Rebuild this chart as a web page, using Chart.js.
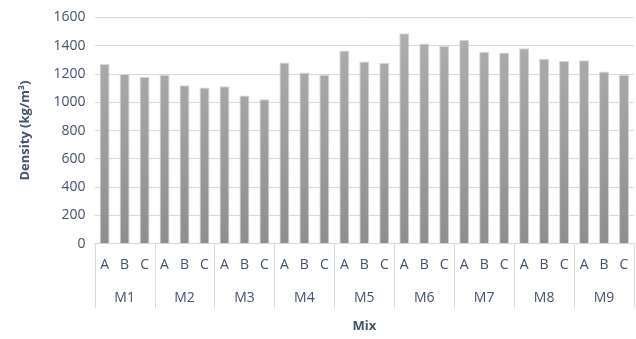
<!DOCTYPE html>
<html>
<head>
<meta charset="utf-8">
<script src="https://cdn.jsdelivr.net/npm/chart.js@4/dist/chart.umd.min.js"></script>
<style>
  html, body { margin: 0; padding: 0; background: #fff; }
  #wrap { width: 636px; height: 339px; }
</style>
</head>
<body>
<div id="wrap"><canvas id="c" width="636" height="339"></canvas></div>
<script>
// Mixes and their specimens
const mixes = ['M1', 'M2', 'M3', 'M4', 'M5', 'M6', 'M7', 'M8', 'M9'];
const specimens = ['A', 'B', 'C'];

// Density per mix, specimens A, B, C (kg/m³)
const m1 = [1270, 1200, 1180];
const m2 = [1195, 1120, 1105];
const m3 = [1113, 1048, 1022];
const m4 = [1281, 1211, 1195];
const m5 = [1366, 1288, 1277];
const m6 = [1488, 1415, 1399];
const m7 = [1441, 1357, 1352];
const m8 = [1382, 1307, 1291];
const m9 = [1298, 1217, 1195];

const yTicks = [0, 200, 400, 600, 800, 1000, 1200, 1400, 1600];

const densities = [].concat(m1, m2, m3, m4, m5, m6, m7, m8, m9);
const barLabels = [];
mixes.forEach(() => specimens.forEach(s => barLabels.push(s)));

const textColor = '#44546A';
const lineColor = '#d9d9d9';
const fontFamily = "'Open Sans', sans-serif";
const fontSize = 14;
const titleSize = 13;
const tickPad = 5;

// Group dividers below the axis, spanning both label rows
const groupDividers = {
  id: 'groupDividers',
  afterDraw(chart) {
    const x = chart.scales.x, x2 = chart.scales.x2;
    const ctx = chart.ctx;
    const n = specimens.length;
    const step = x.getPixelForValue(1) - x.getPixelForValue(0);
    const top = chart.chartArea.bottom;
    const bottom = x2.top + tickPad * 2 + fontSize * 1.4;
    ctx.save();
    ctx.strokeStyle = lineColor;
    ctx.lineWidth = 1;
    for (let g = 0; g <= mixes.length; g++) {
      const px = Math.round(x.getPixelForValue(g * n) - step / 2) + 0.5;
      ctx.beginPath();
      ctx.moveTo(px, top);
      ctx.lineTo(px, bottom);
      ctx.stroke();
    }
    ctx.restore();
  }
};

const ctx = document.getElementById('c').getContext('2d');
new Chart(ctx, {
  type: 'bar',
  data: {
    labels: barLabels,
    datasets: [{
      data: densities,
      xAxisID: 'x',
      backgroundColor(c) {
        const area = c.chart.chartArea;
        if (!area) return '#a0a0a0';
        const g = c.chart.ctx.createLinearGradient(0, area.top, 0, area.bottom);
        g.addColorStop(0, '#b0b0b0');
        g.addColorStop(1, '#8e8e8e');
        return g;
      },
      borderColor: '#d6d6d6',
      borderWidth: 1,
      barPercentage: 0.5,
      categoryPercentage: 1.0
    }]
  },
  options: {
    responsive: false,
    animation: false,
    devicePixelRatio: 1,
    layout: { padding: { left: 17, right: 2, top: 0, bottom: 5 } },
    plugins: { legend: { display: false }, tooltip: { enabled: false } },
    scales: {
      x: {
        type: 'category',
        offset: true,
        grid: { display: false },
        border: { display: true, color: lineColor },
        ticks: { color: textColor, font: { family: fontFamily, size: fontSize }, padding: tickPad, maxRotation: 0, autoSkip: false }
      },
      x2: {
        type: 'category',
        labels: mixes,
        position: 'bottom',
        offset: true,
        grid: { display: false },
        border: { display: false },
        ticks: { color: textColor, font: { family: fontFamily, size: fontSize }, padding: 3, maxRotation: 0, autoSkip: false },
        title: { display: true, text: 'Mix', color: textColor, font: { family: fontFamily, size: titleSize, weight: 'bold' }, padding: { top: 9, bottom: 0 } }
      },
      y: {
        min: 0,
        max: 1600,
        afterBuildTicks(scale) { scale.ticks = yTicks.map(v => ({ value: v })); },
        grid: { color: lineColor, drawTicks: false },
        border: { display: false },
        ticks: { color: textColor, font: { family: fontFamily, size: fontSize }, padding: 9, callback: v => String(v) },
        title: { display: true, text: 'Density (kg/m³)', color: textColor, font: { family: fontFamily, size: titleSize, weight: 'bold' }, padding: { top: 0, bottom: 12 } }
      }
    }
  },
  plugins: [groupDividers]
});
</script>
</body>
</html>
